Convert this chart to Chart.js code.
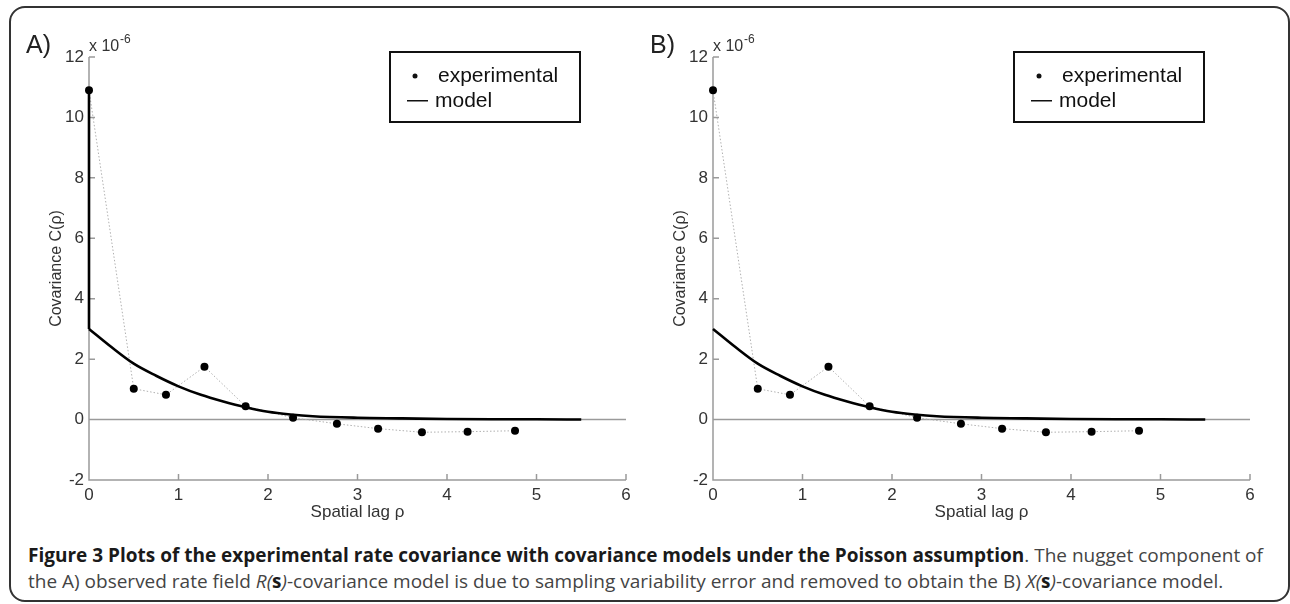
<!DOCTYPE html>
<html>
<head>
<meta charset="utf-8">
<script src="https://cdn.jsdelivr.net/npm/chart.js"></script>
<style>
    body { margin: 0; background: #fff; width: 1290px; height: 604px; overflow: hidden; position: relative; }
    .frame { position: absolute; left: 9px; top: 6px; width: 1281px; height: 596px; border: 2px solid #333; border-radius: 16px; box-sizing: border-box; }
    canvas { position: absolute; top: 0; }
    #chart-a { left: 0; }
    #chart-b { left: 624px; }
    .caption { position: absolute; left: 28px; top: 543px; width: 1250px; font-family: "Open Sans", sans-serif; font-size: 19px; line-height: 25.5px; color: #444; white-space: nowrap; }
    .caption b { color: #1a1a1a; }
</style>
</head>
<body>
<div class="frame"></div>
<canvas id="chart-a" width="645" height="530"></canvas>
<canvas id="chart-b" width="645" height="530"></canvas>
<div class="caption">
    <b>Figure 3 Plots of the experimental rate covariance with covariance models under the Poisson assumption</b>. The nugget component of<br>
    the A) observed rate field <i>R(</i><b>s</b><i>)</i>-covariance model is due to sampling variability error and removed to obtain the B) <i>X(</i><b>s</b><i>)</i>-covariance model.
</div>
<script>
// values (covariance in units of 1e-6)
const expLag = [0, 0.5, 0.86, 1.29, 1.75, 2.28, 2.77, 3.23, 3.72, 4.23, 4.76];
const expCov = [10.9, 1.02, 0.82, 1.75, 0.44, 0.06, -0.14, -0.30, -0.42, -0.40, -0.37];

const modelLag = [0, 0.25, 0.5, 0.75, 1.0, 1.25, 1.5, 1.75, 2.0, 2.25, 2.5, 3.0, 3.5, 4.0, 4.5, 5.0, 5.5];
const modelCov = [3.0, 2.4, 1.85, 1.45, 1.1, 0.82, 0.6, 0.41, 0.26, 0.17, 0.11, 0.06, 0.04, 0.02, 0.01, 0.01, 0.0];

// nugget jump at zero lag, only in the R(s) model (panel A)
const nuggetLag = [0, 0];
const nuggetCov = [10.9, 3.0];

const xTicks = [0, 1, 2, 3, 4, 5, 6];
const yTicks = [-2, 0, 2, 4, 6, 8, 10, 12];

const axisGray = '#9a9a9a';
const font = '"Liberation Sans", Arial, sans-serif';

function toPoints(xs, ys) {
    return xs.map((x, i) => ({ x: x, y: ys[i] }));
}

// axes, inward ticks, zero line, panel label, exponent and legend box
const decorations = {
    id: 'decorations',
    beforeDatasetsDraw(chart, args, opts) {
        const ctx = chart.ctx;
        const area = chart.chartArea;
        const xs = chart.scales.x;
        const ys = chart.scales.y;
        ctx.save();
        ctx.strokeStyle = axisGray;
        ctx.lineWidth = 1.5;
        ctx.beginPath();
        ctx.moveTo(area.left, area.top);
        ctx.lineTo(area.left, area.bottom);
        ctx.lineTo(area.right, area.bottom);
        const y0 = ys.getPixelForValue(0);
        ctx.moveTo(area.left, y0);
        ctx.lineTo(area.right, y0);
        yTicks.forEach(v => {
            const py = ys.getPixelForValue(v);
            ctx.moveTo(area.left, py);
            ctx.lineTo(area.left + 6, py);
        });
        xTicks.forEach(v => {
            const px = xs.getPixelForValue(v);
            ctx.moveTo(px, area.bottom);
            ctx.lineTo(px, area.bottom - 6);
        });
        ctx.stroke();
        ctx.restore();
    },
    afterDraw(chart, args, opts) {
        const ctx = chart.ctx;
        const area = chart.chartArea;
        ctx.save();
        ctx.fillStyle = '#222';
        ctx.textBaseline = 'alphabetic';
        ctx.font = '25px ' + font;
        ctx.fillText(opts.label, area.left - 63, 53);
        ctx.fillStyle = '#333';
        ctx.font = '16px ' + font;
        ctx.fillText('x 10', area.left, 51);
        ctx.font = '12px ' + font;
        ctx.fillText('-6', area.left + 31, 43);

        // legend
        const lx = area.left + 301, ly = 52, lw = 190, lh = 70;
        ctx.strokeStyle = '#111';
        ctx.lineWidth = 2;
        ctx.strokeRect(lx, ly, lw, lh);
        ctx.fillStyle = '#111';
        ctx.beginPath();
        ctx.arc(lx + 25, ly + 24, 2.5, 0, Math.PI * 2);
        ctx.fill();
        ctx.font = '21px ' + font;
        ctx.fillText('experimental', lx + 48, ly + 30);
        ctx.fillRect(lx + 17, ly + 48, 21, 1.5);
        ctx.fillText('model', lx + 45, ly + 55);
        ctx.restore();
    }
};

function makeChart(id, label, withNugget) {
    const ctx = document.getElementById(id).getContext('2d');
    const datasets = [{
        label: 'model',
        data: toPoints(modelLag, modelCov),
        showLine: true,
        borderColor: '#000',
        borderWidth: 2.6,
        pointRadius: 0,
        cubicInterpolationMode: 'monotone',
        clip: false,
        order: 1
    }, {
        label: 'experimental',
        data: toPoints(expLag, expCov),
        showLine: true,
        borderColor: '#b0b0b0',
        borderWidth: 1,
        borderDash: [1.5, 2],
        pointRadius: 4,
        pointBackgroundColor: '#000',
        pointBorderWidth: 0,
        clip: false,
        order: 2
    }];
    if (withNugget) {
        datasets.push({
            label: 'nugget',
            data: toPoints(nuggetLag, nuggetCov),
            showLine: true,
            borderColor: '#000',
            borderWidth: 2.6,
            pointRadius: 0,
            clip: false,
            order: 0
        });
    }
    return new Chart(ctx, {
        type: 'scatter',
        data: { datasets: datasets },
        options: {
            responsive: false,
            animation: false,
            layout: {
                padding: { left: 38, top: 57, right: 19, bottom: 0 }
            },
            scales: {
                x: {
                    type: 'linear',
                    min: 0,
                    max: 6,
                    afterFit: s => { s.height = 50; },
                    afterBuildTicks: s => { s.ticks = xTicks.map(v => ({ value: v })); },
                    grid: { display: false, drawTicks: false },
                    border: { display: false },
                    ticks: { color: '#333', font: { family: font, size: 17 }, padding: 5 },
                    title: {
                        display: true,
                        text: 'Spatial lag ρ',
                        color: '#333',
                        font: { family: font, size: 17 },
                        padding: { top: 0, bottom: 7 }
                    }
                },
                y: {
                    type: 'linear',
                    min: -2,
                    max: 12,
                    afterFit: s => { s.width = 51; },
                    afterBuildTicks: s => { s.ticks = yTicks.map(v => ({ value: v })); },
                    grid: { display: false, drawTicks: false },
                    border: { display: false },
                    ticks: { color: '#333', font: { family: font, size: 17 }, padding: 5 },
                    title: {
                        display: true,
                        text: 'Covariance C(ρ)',
                        color: '#333',
                        font: { family: font, size: 16 },
                        padding: { top: 9, bottom: 0 }
                    }
                }
            },
            plugins: {
                legend: { display: false },
                tooltip: { enabled: false },
                decorations: { label: label }
            }
        },
        plugins: [decorations]
    });
}

const chartA = makeChart('chart-a', 'A)', true);
const chartB = makeChart('chart-b', 'B)', false);
</script>
</body>
</html>
